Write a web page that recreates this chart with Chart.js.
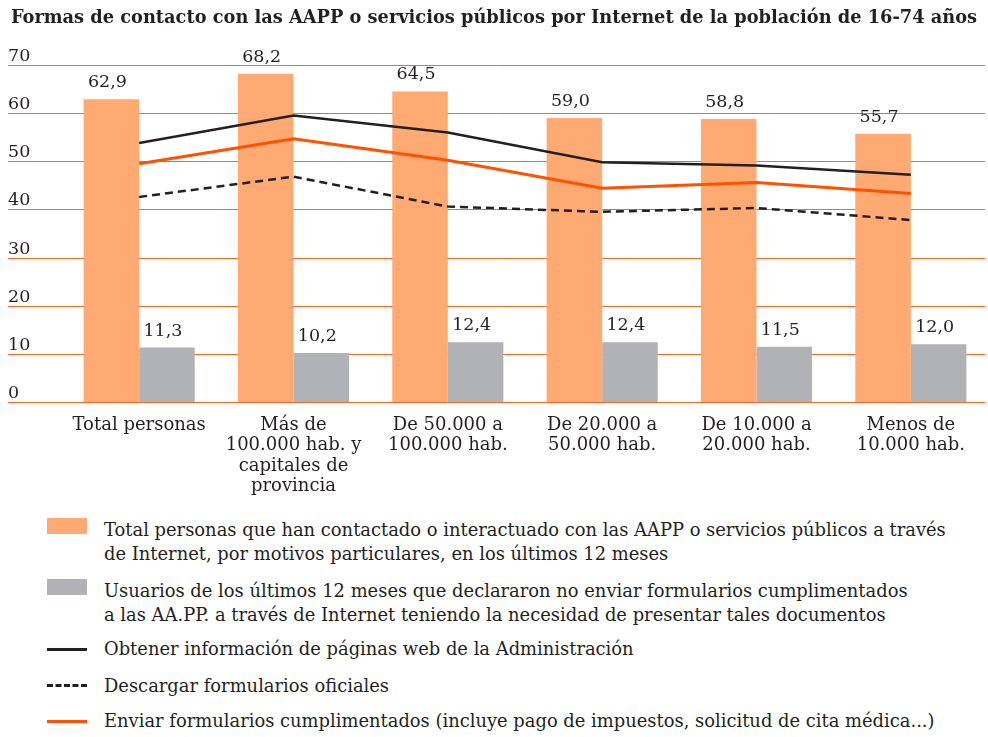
<!DOCTYPE html>
<html>
<head>
<meta charset="utf-8">
<script src="https://cdn.jsdelivr.net/npm/chart.js@4"></script>
<style>
  body { margin: 0; background: #fff; width: 988px; height: 737px; overflow: hidden; position: relative; font-family: "DejaVu Serif", serif; color: #231F20; }
  #wrap { position: absolute; left: 0; top: 0; width: 988px; height: 500px; }
  #titulo { position: absolute; left: 0; top: 5px; width: 988px; text-align: center; font-weight: bold; font-size: 17.8px; line-height: 24px; white-space: nowrap; }
  #leyenda { position: absolute; left: 0; top: 512px; width: 988px; font-size: 17.9px; line-height: 24px; }
  .item { position: absolute; left: 104px; white-space: nowrap; }
  .sw { position: absolute; left: 47px; width: 40px; }
</style>
</head>
<body>
<div id="wrap"><canvas id="grafico"></canvas></div>
<div id="titulo"></div>
<div id="leyenda"></div>
<script>
const titulo = 'Formas de contacto con las AAPP o servicios públicos por Internet de la población de 16-74 años';
const categorias = [
  'Total personas',
  ['Más de', '100.000 hab. y', 'capitales de', 'provincia'],
  ['De 50.000 a', '100.000 hab.'],
  ['De 20.000 a', '50.000 hab.'],
  ['De 10.000 a', '20.000 hab.'],
  ['Menos de', '10.000 hab.']
];
const totalContacto = [62.9, 68.2, 64.5, 59.0, 58.8, 55.7];
const noEnviaron = [11.3, 10.2, 12.4, 12.4, 11.5, 12.0];
const obtenerInfo = [53.8, 59.5, 56.0, 49.8, 49.1, 47.2];
const descargar = [42.6, 46.8, 40.6, 39.5, 40.3, 37.8];
const enviar = [49.5, 54.7, 50.2, 44.4, 45.6, 43.3];
const ticksY = [0, 10, 20, 30, 40, 50, 60, 70];

const nombres = [
  'Total personas que han contactado o interactuado con las AAPP o servicios públicos a través<br>de Internet, por motivos particulares, en los últimos 12 meses',
  'Usuarios de los últimos 12 meses que declararon no enviar formularios cumplimentados<br>a las AA.PP. a través de Internet teniendo la necesidad de presentar tales documentos',
  'Obtener información de páginas web de la Administración',
  'Descargar formularios oficiales',
  'Enviar formularios cumplimentados (incluye pago de impuestos, solicitud de cita médica...)'
];

const NARANJA = '#FFAA72';
const GRIS = '#B1B2B6';
const NEGRO = '#231F20';
const ROJO = '#FF5200';
const REJILLA = '#F26B2A';
const fuente = '"DejaVu Serif", serif';

document.getElementById('titulo').textContent = titulo;

// rejilla y etiquetas del eje Y a todo lo ancho
const rejilla = {
  id: 'rejilla',
  beforeDatasetsDraw(chart) {
    const y = chart.scales.y;
    const c = chart.ctx;
    c.save();
    c.strokeStyle = REJILLA;
    c.lineWidth = 1;
    c.fillStyle = NEGRO;
    c.font = '17.5px ' + fuente;
    c.textAlign = 'left';
    c.textBaseline = 'alphabetic';
    ticksY.forEach(v => {
      const py = Math.round(y.getPixelForValue(v)) + 0.5;
      c.beginPath();
      c.moveTo(8, py);
      c.lineTo(985, py);
      c.stroke();
      c.fillText(String(v), 8, py - 5);
    });
    c.restore();
  }
};

// valores encima de las barras
const etiquetas = {
  id: 'etiquetas',
  afterDatasetsDraw(chart) {
    const c = chart.ctx;
    c.save();
    c.fillStyle = NEGRO;
    c.font = '17.5px ' + fuente;
    c.textAlign = 'center';
    c.textBaseline = 'alphabetic';
    chart.data.datasets.forEach((ds, i) => {
      if (ds.type !== 'bar') return;
      chart.getDatasetMeta(i).data.forEach((bar, j) => {
        c.fillText(ds.data[j].toFixed(1).replace('.', ','), bar.x - 4, bar.y - 12);
      });
    });
    c.restore();
  }
};

const canvas = document.getElementById('grafico');
canvas.width = 988;
canvas.height = 500;

new Chart(canvas.getContext('2d'), {
  data: {
    labels: categorias,
    datasets: [
      { type: 'line', label: 'Obtener', data: obtenerInfo, borderColor: NEGRO, borderWidth: 2.5, pointRadius: 0, tension: 0, order: 1 },
      { type: 'line', label: 'Descargar', data: descargar, borderColor: NEGRO, borderWidth: 2.5, borderDash: [8, 5], pointRadius: 0, tension: 0, order: 1 },
      { type: 'line', label: 'Enviar', data: enviar, borderColor: ROJO, borderWidth: 3, pointRadius: 0, tension: 0, order: 1 },
      { type: 'bar', label: 'Total', data: totalContacto, backgroundColor: NARANJA, order: 2, categoryPercentage: 0.72, barPercentage: 1.0 },
      { type: 'bar', label: 'No enviaron', data: noEnviaron, backgroundColor: GRIS, order: 2, categoryPercentage: 0.72, barPercentage: 1.0 }
    ]
  },
  options: {
    responsive: false,
    animation: false,
    layout: { padding: { left: 62, right: 0, top: 65, bottom: 0 } },
    plugins: {
      legend: { display: false },
      tooltip: { enabled: false },
      title: { display: false }
    },
    scales: {
      x: {
        grid: { display: false, drawTicks: false },
        border: { display: false },
        ticks: { color: NEGRO, font: { family: fuente, size: 18, lineHeight: 1.13 }, padding: 13, maxRotation: 0, autoSkip: false },
        afterFit(scale) { scale.height = 98; }
      },
      y: {
        display: false,
        min: 0,
        max: 70
      }
    }
  },
  plugins: [rejilla, etiquetas]
});

// leyenda
const ley = document.getElementById('leyenda');
const filas = [
  { top: 6, sw: 'background:' + NARANJA + ';top:6px;height:16px' },
  { top: 67, sw: 'background:' + GRIS + ';top:67px;height:16px' },
  { top: 125, sw: 'top:136px;height:0;border-top:3px solid ' + NEGRO },
  { top: 162, sw: 'top:172px;height:0;border-top:3px dashed ' + NEGRO },
  { top: 197, sw: 'top:208px;height:0;border-top:3px solid ' + ROJO }
];
filas.forEach((f, i) => {
  const s = document.createElement('div');
  s.className = 'sw';
  s.style.cssText = f.sw;
  ley.appendChild(s);
  const t = document.createElement('div');
  t.className = 'item';
  t.style.top = f.top + 'px';
  t.innerHTML = nombres[i];
  ley.appendChild(t);
});
</script>
</body>
</html>
